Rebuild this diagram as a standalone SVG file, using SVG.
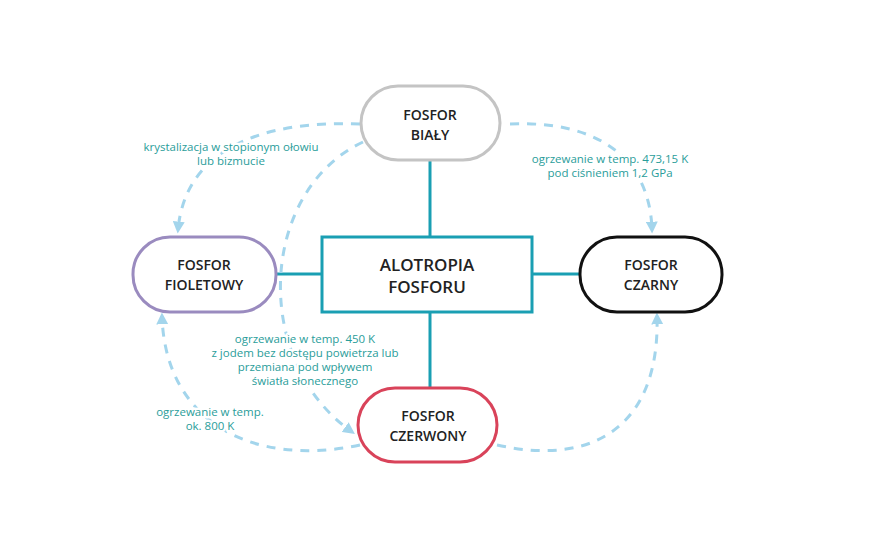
<svg xmlns="http://www.w3.org/2000/svg" width="880" height="540" viewBox="0 0 880 540">
<style>
.n{fill:#fff;stroke-width:3}
.t{font-family:"Open Sans",sans-serif;font-weight:600;font-size:14px;fill:#222;text-anchor:middle}
.c{font-family:"Open Sans",sans-serif;font-weight:600;font-size:17px;fill:#222;text-anchor:middle}
.l{font-family:"Open Sans",sans-serif;font-size:11.5px;fill:#2a9d9a;text-anchor:middle;stroke:#fff;stroke-width:5;paint-order:stroke;stroke-linejoin:round}
.s{stroke:#1a9fb3;stroke-width:3;fill:none}
.d{stroke:#a3d5ec;stroke-width:3;fill:none;stroke-dasharray:9 8;marker-end:url(#a)}
</style>
<defs><marker id="a" viewBox="0 0 10 10" refX="7" refY="5" markerWidth="4" markerHeight="4" orient="auto" markerUnits="strokeWidth"><path d="M0,0L10,5L0,10z" fill="#a3d5ec"/></marker></defs>
<rect width="880" height="540" fill="#fff"/>
<g id="connectors">
<path class="s" d="M430,160V237M430,312V388M276,274H322M532,274H580"/>
<path class="d" d="M360,124C260,120 185,150 178,230"/>
<path class="d" d="M363,142C260,190 250,360 352,432"/>
<path class="d" d="M510,124C600,120 650,160 652,230"/>
<path class="d" d="M497,445C600,468 660,420 657,316"/>
<path class="d" d="M360,445C250,468 165,420 162,316"/>
</g>
<g id="bialy"><rect class="n" x="361" y="86" width="139" height="74" rx="37" stroke="#c4c4c4"/><text class="t" x="430" y="120">FOSFOR</text><text class="t" x="430" y="140">BIAŁY</text></g>
<g id="alotropia"><rect class="n" x="322" y="237" width="210" height="75" stroke="#1a9fb3"/><text class="c" x="427" y="271">ALOTROPIA</text><text class="c" x="427" y="293">FOSFORU</text></g>
<g id="fioletowy"><rect class="n" x="133" y="237" width="143" height="75" rx="37" stroke="#9a8bbf"/><text class="t" x="204" y="270">FOSFOR</text><text class="t" x="204" y="290">FIOLETOWY</text></g>
<g id="czarny"><rect class="n" x="580" y="237" width="142" height="75" rx="37" stroke="#111"/><text class="t" x="651" y="270">FOSFOR</text><text class="t" x="651" y="290">CZARNY</text></g>
<g id="czerwony"><rect class="n" x="358" y="388" width="139" height="74" rx="37" stroke="#d9435a"/><text class="t" x="428" y="421">FOSFOR</text><text class="t" x="428" y="441">CZERWONY</text></g>
<g id="labels">
<text class="l" x="231" y="151">krystalizacja w stopionym ołowiu</text><text class="l" x="231" y="165">lub bizmucie</text>
<text class="l" x="610" y="163">ogrzewanie w temp. 473,15 K</text><text class="l" x="610" y="177">pod ciśnieniem 1,2 GPa</text>
<text class="l" x="305" y="343">ogrzewanie w temp. 450 K</text><text class="l" x="305" y="357">z jodem bez dostępu powietrza lub</text><text class="l" x="305" y="371">przemiana pod wpływem</text><text class="l" x="305" y="385">światła słonecznego</text>
<text class="l" x="210" y="416">ogrzewanie w temp.</text><text class="l" x="210" y="430">ok. 800 K</text>
</g>
</svg>
